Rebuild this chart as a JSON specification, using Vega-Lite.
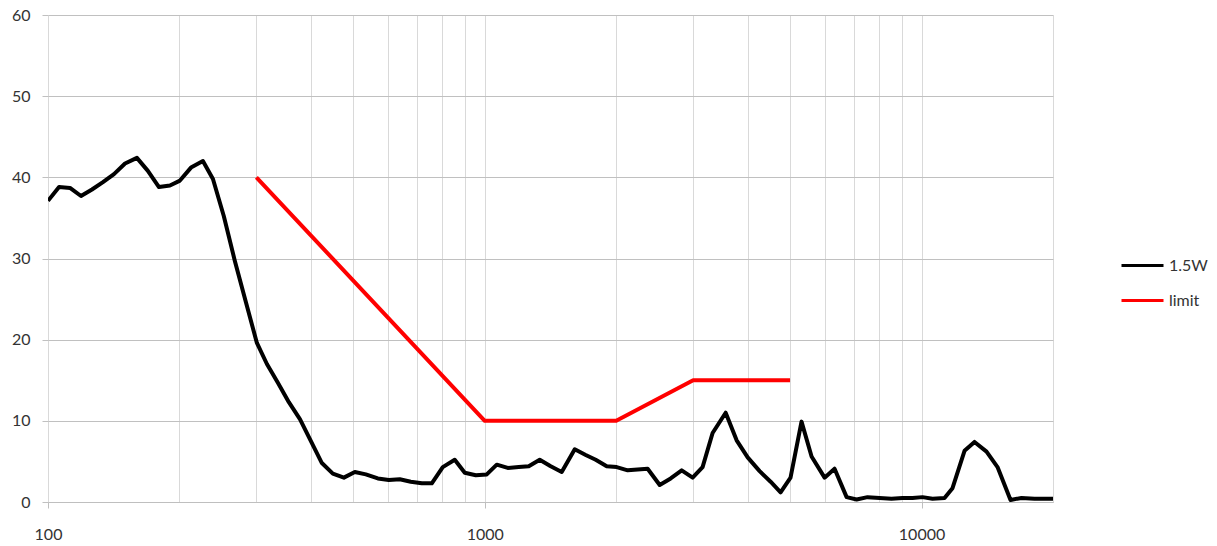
{
  "$schema": "https://vega.github.io/schema/vega-lite/v6.json",
  "width": 1005,
  "height": 487,
  "autosize": {"type": "none"},
  "padding": {"left": 48, "top": 15, "right": 164, "bottom": 44},
  "background": "white",
  "config": {"view": {"stroke": null}, "font": "Lato"},
  "data": {
    "values": [
      {"f": 100, "v": 37.1, "s": "1.5W"},
      {"f": 106, "v": 38.8, "s": "1.5W"},
      {"f": 112.3, "v": 38.7, "s": "1.5W"},
      {"f": 119, "v": 37.7, "s": "1.5W"},
      {"f": 126.1, "v": 38.5, "s": "1.5W"},
      {"f": 133.6, "v": 39.4, "s": "1.5W"},
      {"f": 141.6, "v": 40.4, "s": "1.5W"},
      {"f": 150.1, "v": 41.7, "s": "1.5W"},
      {"f": 159.8, "v": 42.4, "s": "1.5W"},
      {"f": 169.3, "v": 40.8, "s": "1.5W"},
      {"f": 179.5, "v": 38.8, "s": "1.5W"},
      {"f": 190.2, "v": 39.0, "s": "1.5W"},
      {"f": 200.5, "v": 39.6, "s": "1.5W"},
      {"f": 212.5, "v": 41.2, "s": "1.5W"},
      {"f": 226.3, "v": 42.0, "s": "1.5W"},
      {"f": 238.6, "v": 39.8, "s": "1.5W"},
      {"f": 252.7, "v": 35.2, "s": "1.5W"},
      {"f": 267.8, "v": 29.7, "s": "1.5W"},
      {"f": 283.9, "v": 24.6, "s": "1.5W"},
      {"f": 300.8, "v": 19.6, "s": "1.5W"},
      {"f": 317.1, "v": 17.0, "s": "1.5W"},
      {"f": 336, "v": 14.7, "s": "1.5W"},
      {"f": 356, "v": 12.3, "s": "1.5W"},
      {"f": 377.4, "v": 10.2, "s": "1.5W"},
      {"f": 399.9, "v": 7.5, "s": "1.5W"},
      {"f": 423.7, "v": 4.8, "s": "1.5W"},
      {"f": 448.9, "v": 3.5, "s": "1.5W"},
      {"f": 475.8, "v": 3.0, "s": "1.5W"},
      {"f": 504.1, "v": 3.7, "s": "1.5W"},
      {"f": 534.2, "v": 3.4, "s": "1.5W"},
      {"f": 569.1, "v": 2.9, "s": "1.5W"},
      {"f": 603, "v": 2.7, "s": "1.5W"},
      {"f": 639, "v": 2.8, "s": "1.5W"},
      {"f": 677, "v": 2.5, "s": "1.5W"},
      {"f": 717.6, "v": 2.3, "s": "1.5W"},
      {"f": 756.4, "v": 2.3, "s": "1.5W"},
      {"f": 801.4, "v": 4.3, "s": "1.5W"},
      {"f": 853.6, "v": 5.2, "s": "1.5W"},
      {"f": 900, "v": 3.6, "s": "1.5W"},
      {"f": 953.7, "v": 3.3, "s": "1.5W"},
      {"f": 1010.6, "v": 3.4, "s": "1.5W"},
      {"f": 1065.3, "v": 4.6, "s": "1.5W"},
      {"f": 1128.9, "v": 4.2, "s": "1.5W"},
      {"f": 1196.2, "v": 4.3, "s": "1.5W"},
      {"f": 1261, "v": 4.4, "s": "1.5W"},
      {"f": 1336.2, "v": 5.2, "s": "1.5W"},
      {"f": 1415.8, "v": 4.4, "s": "1.5W"},
      {"f": 1500.3, "v": 3.7, "s": "1.5W"},
      {"f": 1607, "v": 6.5, "s": "1.5W"},
      {"f": 1702.7, "v": 5.8, "s": "1.5W"},
      {"f": 1794.7, "v": 5.2, "s": "1.5W"},
      {"f": 1902, "v": 4.4, "s": "1.5W"},
      {"f": 2004.8, "v": 4.3, "s": "1.5W"},
      {"f": 2124.4, "v": 3.9, "s": "1.5W"},
      {"f": 2239, "v": 4.0, "s": "1.5W"},
      {"f": 2360, "v": 4.1, "s": "1.5W"},
      {"f": 2515, "v": 2.1, "s": "1.5W"},
      {"f": 2665, "v": 2.9, "s": "1.5W"},
      {"f": 2824, "v": 3.9, "s": "1.5W"},
      {"f": 2992, "v": 3.0, "s": "1.5W"},
      {"f": 3153, "v": 4.3, "s": "1.5W"},
      {"f": 3324, "v": 8.5, "s": "1.5W"},
      {"f": 3561, "v": 11.0, "s": "1.5W"},
      {"f": 3773, "v": 7.6, "s": "1.5W"},
      {"f": 3999, "v": 5.5, "s": "1.5W"},
      {"f": 4259, "v": 3.8, "s": "1.5W"},
      {"f": 4513, "v": 2.5, "s": "1.5W"},
      {"f": 4757, "v": 1.2, "s": "1.5W"},
      {"f": 5013, "v": 3.0, "s": "1.5W"},
      {"f": 5312, "v": 9.9, "s": "1.5W"},
      {"f": 5601, "v": 5.6, "s": "1.5W"},
      {"f": 5999, "v": 3.0, "s": "1.5W"},
      {"f": 6323, "v": 4.1, "s": "1.5W"},
      {"f": 6738, "v": 0.6, "s": "1.5W"},
      {"f": 7102, "v": 0.3, "s": "1.5W"},
      {"f": 7524, "v": 0.6, "s": "1.5W"},
      {"f": 8015, "v": 0.5, "s": "1.5W"},
      {"f": 8536, "v": 0.4, "s": "1.5W"},
      {"f": 9046, "v": 0.5, "s": "1.5W"},
      {"f": 9537, "v": 0.5, "s": "1.5W"},
      {"f": 10053, "v": 0.6, "s": "1.5W"},
      {"f": 10597, "v": 0.4, "s": "1.5W"},
      {"f": 11289, "v": 0.5, "s": "1.5W"},
      {"f": 11774, "v": 1.7, "s": "1.5W"},
      {"f": 12544, "v": 6.3, "s": "1.5W"},
      {"f": 13223, "v": 7.4, "s": "1.5W"},
      {"f": 14088, "v": 6.2, "s": "1.5W"},
      {"f": 14928, "v": 4.3, "s": "1.5W"},
      {"f": 15988, "v": 0.25, "s": "1.5W"},
      {"f": 16938, "v": 0.5, "s": "1.5W"},
      {"f": 18144, "v": 0.4, "s": "1.5W"},
      {"f": 20000, "v": 0.4, "s": "1.5W"},
      {"f": 300, "v": 40, "s": "limit"},
      {"f": 1000, "v": 10, "s": "limit"},
      {"f": 2000, "v": 10, "s": "limit"},
      {"f": 3000, "v": 15, "s": "limit"},
      {"f": 5000, "v": 15, "s": "limit"}
    ]
  },
  "mark": {"type": "line", "strokeWidth": 4, "strokeJoin": "round", "strokeCap": "butt", "clip": true},
  "encoding": {
    "x": {
      "field": "f",
      "type": "quantitative",
      "scale": {"type": "log", "domain": [100, 20000], "nice": false},
      "axis": {
        "title": null,
        "values": [100, 200, 300, 400, 500, 600, 700, 800, 900, 1000, 2000, 3000, 4000, 5000, 6000, 7000, 8000, 9000, 10000, 20000],
        "labelExpr": "(datum.value == 100 || datum.value == 1000 || datum.value == 10000) ? format(datum.value, 'd') : ''",
        "grid": true,
        "gridColor": "#d9d9d9",
        "gridWidth": 1,
        "domainColor": "#bfbfbf",
        "domainWidth": 1,
        "tickColor": {"condition": {"test": "datum.value == 100 || datum.value == 1000 || datum.value == 10000", "value": "#bfbfbf"}, "value": "transparent"},
        "tickSize": 6,
        "labelPadding": 18,
        "labelFontSize": 16,
        "labelColor": "#333333",
        "labelFlush": false,
        "labelOverlap": false
      }
    },
    "y": {
      "field": "v",
      "type": "quantitative",
      "scale": {"domain": [0, 60], "nice": false},
      "axis": {
        "title": null,
        "values": [0, 10, 20, 30, 40, 50, 60],
        "grid": true,
        "gridColor": "#c0c0c0",
        "gridWidth": 1,
        "domain": false,
        "tickColor": "#c0c0c0",
        "tickSize": 6,
        "labelPadding": 12,
        "labelFontSize": 16,
        "labelColor": "#333333"
      }
    },
    "color": {
      "field": "s",
      "type": "nominal",
      "scale": {"domain": ["1.5W", "limit"], "range": ["#000000", "#ff0000"]},
      "legend": {
        "title": null,
        "orient": "none",
        "legendX": 1072,
        "legendY": 228,
        "symbolType": "stroke",
        "symbolSize": 1764,
        "symbolStrokeWidth": 3,
        "labelFontSize": 16,
        "labelColor": "#333333",
        "labelOffset": 4,
        "rowPadding": 4
      }
    }
  }
}
